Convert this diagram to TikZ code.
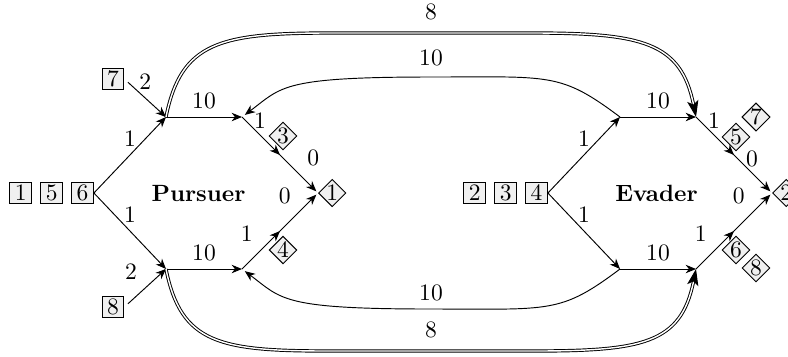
\documentclass[tikz,border=0pt]{standalone}
\usepackage{tikz}
\usetikzlibrary{positioning, shapes.geometric}
\usetikzlibrary{calc, decorations.markings, arrows.meta}
\tikzstyle{ibox} = [rectangle, draw=black, fill=gray!12, minimum size=9.3pt, inner sep=0pt]
\tikzstyle{obox} = [diamond, draw=black, fill=gray!12, inner sep=0pt]
\tikzstyle{arrow} = [-{Stealth[length=4.4pt, width=3.6pt, inset=1.4pt]}]
\tikzstyle{midarrow} = [arrow, postaction={decorate}, decoration={markings, mark=at position 0.5 with {\arrow{Stealth[length=4.4pt, width=3.6pt, inset=1.4pt]}}}]
\tikzstyle{dblarrow} = [double, -{Stealth[length=7pt, width=4.8pt, inset=1.6pt]}]
\tikzstyle{team} = [font=\bfseries]

\begin{document}
\begin{tikzpicture}[x=0.425pt, y=-0.425pt]
		\useasboundingbox (0,0) rectangle (788,356);
		%Pursuer
		\coordinate (pu) at (166,117);
		\coordinate (pu2) at (242,117);
		\coordinate (pl) at (166,269);
		\coordinate (pl2) at (242,269);
		\coordinate (pt) at (318,193);
		\node (b6) [ibox] at (82.5,193) {6};
		\node (b5) [ibox, left=3.4pt of b6] {5};
		\node (b1) [ibox, left=3.4pt of b5] {1};
		\node (b7) [ibox] at (113,79) {7};
		\node (b8) [ibox] at (113,307) {8};
		\node (pur) [team] at (198.5,193) {Pursuer};
		\node (d1) [obox, right=0pt of pt] {1};
		\node (d3) [obox] at (283,136) {3};
		\node (d4) [obox] at (283,250) {4};
		
		%Evader
		\coordinate (eu) at (620,117);
		\coordinate (eu2) at (696,117);
		\coordinate (el) at (620,269);
		\coordinate (el2) at (696,269);
		\coordinate (et) at (772,193);
		\node (b4) [ibox] at (536.5,193) {4};
		\node (b3) [ibox, left=3.4pt of b4] {3};
		\node (b2) [ibox, left=3.4pt of b3] {2};
		\node (eva) [team] at (656.5,193) {Evader};
		\node (d2) [obox, right=0pt of et] {2};
		\node (d5) [obox] at (736,137) {5};
		\node (d7) [obox] at (756,117) {7};
		\node (d6) [obox] at (736,250) {6};
		\node (d8) [obox] at (756,268) {8};
		
		%Pursuer edges
		\draw [arrow](b6.east) -- node[above]{1} (pu);
		\draw [arrow](b6.east) -- node[above]{1} (pl);
		\draw [arrow, shorten <=2pt](b7.east) -- node[above]{2} (pu);
		\draw [arrow, shorten <=2pt](b8.east) -- node[above left]{2} (pl);
		\draw [arrow](pu) -- node[above]{10} (pu2);
		\draw [arrow](pl) -- node[above]{10} (pl2);
		\draw [midarrow, shorten >=1pt](pu2) -- node[pos=0.05, right]{1} node[pos=0.75, above right]{0} (pt);
		\draw [midarrow, shorten >=1pt](pl2) -- node[pos=0.25, above left]{1} node[pos=0.75, above left]{0} (pt);
		
		%Evader edges
		\draw [arrow](b4.east) -- node[above]{1} (eu);
		\draw [arrow](b4.east) -- node[above]{1} (el);
		\draw [arrow](eu) -- node[above]{10} (eu2);
		\draw [arrow](el) -- node[above]{10} (el2);
		\draw [midarrow, shorten >=1pt](eu2) -- node[pos=0.05, right]{1} node[pos=0.55, right]{0} (et);
		\draw [midarrow, shorten >=1pt](el2) -- node[pos=0.25, above left]{1} node[pos=0.75, above left]{0} (et);
		
		%long ones
		\draw [dblarrow](pu) .. controls +(15,-75) and +(-110,0) .. ($(pu)+(164,-84)$) -- node[above=2pt]{8} ($(eu2)+(-164,-84)$) .. controls +(110,0) and +(-15,-75) .. (eu2);
		\draw [dblarrow](pl) .. controls +(15,75) and +(-110,0) .. ($(pl)+(164,82)$) -- node[above=2pt]{8} ($(el2)+(-164,82)$) .. controls +(110,0) and +(-15,75) .. (el2);
		\draw [arrow, shorten >=1.5pt](eu) .. controls +(-60,-45) and +(120,0) .. ($(pu2)!0.5!(eu)+(0,-40)$) node[above=1pt]{10} .. controls +(-150,0) and +(40,-30) .. (pu2);
		\draw [arrow, shorten >=1.5pt](el) .. controls +(-60,45) and +(120,0) .. ($(pl2)!0.5!(el)+(0,40)$) node[above]{10} .. controls +(-150,0) and +(40,30) .. (pl2);
		
\end{tikzpicture}
\end{document}
